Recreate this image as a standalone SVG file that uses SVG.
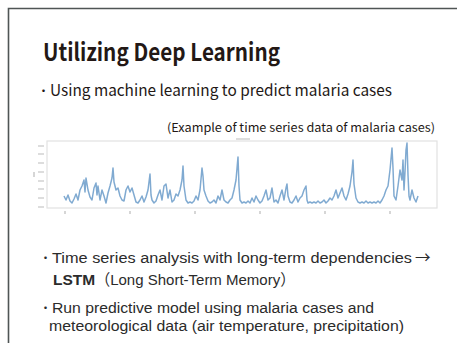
<svg xmlns="http://www.w3.org/2000/svg" width="457" height="343" viewBox="0 0 457 343">
<style>
.jp{font-family:"Noto Sans CJK JP","Noto Sans",sans-serif;fill:#231815}
.ar{font-family:"Liberation Sans","Noto Sans CJK JP",sans-serif;fill:#2b2b2b;font-size:15.5px}
.dot{font-family:"Noto Sans CJK JP",sans-serif;font-size:12px}
.tick{stroke:#bbb;stroke-width:1.2}
</style>
<rect width="457" height="343" fill="#fff"/>
<g id="frame"><path d="M8.5,343 V8.5 H457" fill="none" stroke="#4f5555" stroke-width="1.6"/></g>
<g id="title"><text class="jp" x="43" y="61" font-size="24" font-weight="700" textLength="237" lengthAdjust="spacingAndGlyphs">Utilizing Deep Learning</text></g>
<g id="bullet1"><text class="jp" y="96" font-size="15.5"><tspan class="dot" x="37.5">・</tspan><tspan x="50" textLength="342" lengthAdjust="spacingAndGlyphs">Using machine learning to predict malaria cases</tspan></text></g>
<g id="caption"><text class="jp" x="167" y="132" font-size="12" textLength="268" lengthAdjust="spacingAndGlyphs">(Example of time series data of malaria cases)</text></g>
<g id="chart">
<rect x="47" y="141" width="390" height="67" fill="none" stroke="#e2e2e2" stroke-width="1.2"/>
<path class="tick" d="M38,146h6M38,154h6M38,163h6M38,172h6M38,181h6M38,189h6M38,198h6M38,207h6M34,172v5M65,211v3M130,211v3M195,211v3M260,211v3M325,211v3M390,211v3M236,139h14"/>
<polyline fill="none" stroke="#4a86bd" stroke-opacity="0.7" stroke-width="1.5" stroke-linejoin="round" points="64,196 66,200 68,195 70,201 72,203 74,199 76,194 78,200 80,190 82,186 84,180 85,192 86,178 88,190 90,197 92,200 94,188 96,183 97,195 98,186 100,200 102,190 104,196 106,203 108,193 110,186 112,178 113,168 114,182 116,190 118,188 120,196 122,200 124,201 126,190 128,186 130,192 132,188 134,195 136,202 138,203 140,200 142,196 144,202 146,197 148,190 150,174 151,195 152,200 154,203 156,201 158,195 160,190 162,200 164,186 166,184 168,198 170,190 172,202 174,200 176,194 178,196 180,190 182,180 183,166 184,186 186,200 188,203 190,202 192,203 194,201 196,196 198,200 200,190 202,168 203,176 204,190 206,196 208,201 210,203 212,202 214,200 216,203 218,196 220,200 222,190 224,200 226,202 228,203 230,200 232,198 234,190 236,180 238,157 239,186 240,200 242,203 244,202 246,203 248,201 250,203 252,198 254,202 256,196 258,200 260,203 262,201 264,196 266,190 268,200 270,198 272,188 274,202 276,200 278,203 280,196 282,190 284,200 286,188 287,184 288,196 290,202 292,203 294,200 296,196 298,202 300,198 302,196 304,190 306,186 307,200 308,203 310,202 312,203 314,202 316,203 318,201 320,203 322,202 324,200 326,203 328,201 330,198 332,200 334,196 336,190 338,198 340,193 342,188 344,196 346,200 348,194 350,186 352,172 353,160 354,184 356,198 358,202 360,203 362,202 364,203 366,201 368,203 370,202 372,203 374,202 376,203 378,201 380,203 382,200 384,196 386,190 388,186 390,170 392,148 393,168 394,196 396,200 398,186 400,170 402,180 403,160 404,190 405,172 406,150 407,143 408,175 409,196 410,200 412,190 414,198 416,202 418,196"/>
</g>
<g id="bullet2"><text class="ar" y="263"><tspan class="dot" x="39.5">・</tspan><tspan x="52" textLength="360" lengthAdjust="spacingAndGlyphs">Time series analysis with long-term dependencies</tspan><tspan x="415" font-family="Noto Sans CJK JP, sans-serif">→</tspan></text>
<text class="ar" y="285"><tspan x="53" font-weight="bold">LSTM</tspan><tspan textLength="200" lengthAdjust="spacingAndGlyphs">（Long Short-Term Memory）</tspan></text></g>
<g id="bullet3"><text class="ar" y="313"><tspan class="dot" x="39.5">・</tspan><tspan x="52" textLength="322" lengthAdjust="spacingAndGlyphs">Run predictive model using malaria cases and</tspan></text>
<text class="ar" x="49" y="331" textLength="355" lengthAdjust="spacingAndGlyphs">meteorological data (air temperature, precipitation)</text></g>
</svg>
